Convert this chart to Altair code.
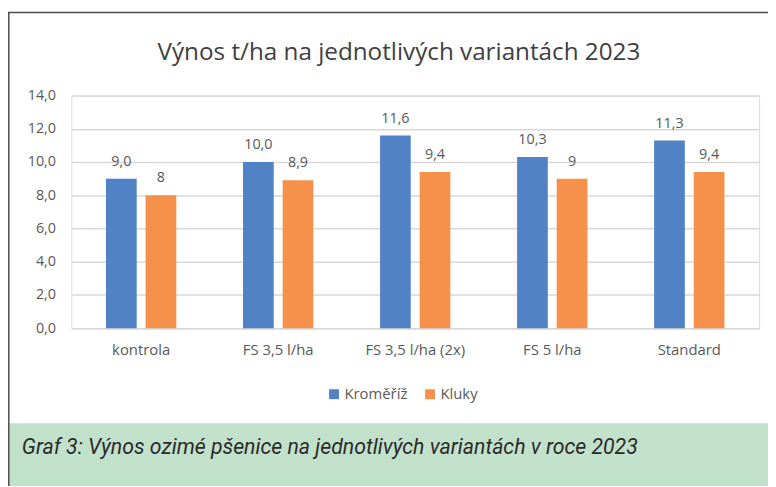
import altair as alt
import pandas as pd

# ---- data ----
categories = ["kontrola", "FS 3,5 l/ha", "FS 3,5 l/ha (2x)", "FS 5 l/ha", "Standard"]
series = ["Kroměříž", "Kluky"]
kromeriz = [9.0, 10.0, 11.6, 10.3, 11.3]
kluky = [8.0, 8.9, 9.4, 9.0, 9.4]
kromeriz_labels = ["9,0", "10,0", "11,6", "10,3", "11,3"]
kluky_labels = ["8", "8,9", "9,4", "9", "9,4"]
y_ticks = [0, 2, 4, 6, 8, 10, 12, 14]
title_text = ["Výnos t/ha na jednotlivých variantách 2023"]
caption_text = ["Graf 3: Výnos ozimé pšenice na jednotlivých variantách v roce 2023"]
colors = ["#5182C6", "#F5914A"]

rows = []
for i, c in enumerate(categories):
    rows.append({"variant": c, "series": series[0], "value": kromeriz[i], "label": kromeriz_labels[i]})
    rows.append({"variant": c, "series": series[1], "value": kluky[i], "label": kluky_labels[i]})
df = pd.DataFrame(rows)

FONT = "Open Sans"
GREY = "#595959"
W, H = 695, 235

x = alt.X("variant:N", sort=categories, title=None,
          scale=alt.Scale(paddingInner=0.487, paddingOuter=0.253),
          axis=alt.Axis(labelAngle=0, labelFontSize=15, labelColor=GREY, labelFont=FONT,
                        labelPadding=15, ticks=False, domainColor="#d9d9d9", domainWidth=1.5,
                        grid=False))
xo = alt.XOffset("series:N", sort=series, scale=alt.Scale(paddingInner=0.225, paddingOuter=0))
y = alt.Y("value:Q", title=None,
          scale=alt.Scale(domain=[0, 14], nice=False, zero=True),
          axis=alt.Axis(values=y_ticks, labelExpr="replace(format(datum.value, '.1f'), '.', ',')",
                        labelFontSize=14.5, labelColor=GREY, labelFont=FONT, labelPadding=16,
                        ticks=False, domain=False, grid=True, gridColor="#d9d9d9", gridWidth=1.5))
color = alt.Color("series:N", sort=series,
                  scale=alt.Scale(domain=series, range=colors),
                  legend=alt.Legend(title=None, orient="none", legendX=258, legendY=294,
                                    direction="horizontal", symbolType="square", symbolSize=100,
                                    symbolStrokeWidth=0, labelFontSize=15, labelColor=GREY,
                                    labelFont=FONT, columnPadding=15, labelOffset=3))

base = alt.Chart(df)
bars = base.mark_bar().encode(x=x, xOffset=xo, y=y, color=color)
labels = base.mark_text(fontSize=14.5, color=GREY, font=FONT, dy=-13, baseline="alphabetic").encode(
    x=x, xOffset=xo, y=y, text="label:N")

green = alt.Chart(pd.DataFrame({"a": [0]})).mark_rect(color="#C1E1CB").encode(
    x=alt.value(-63), x2=alt.value(704), y=alt.value(331), y2=alt.value(395))
top_border = alt.Chart(pd.DataFrame({"a": [0]})).mark_rule(color="#4d4d4d", strokeWidth=1.5).encode(
    x=alt.value(-64), x2=alt.value(704), y=alt.value(-84))
left_border = alt.Chart(pd.DataFrame({"a": [0]})).mark_rule(color="#4d4d4d", strokeWidth=1.5).encode(
    x=alt.value(-63.2), y=alt.value(-84), y2=alt.value(395))
title = alt.Chart(pd.DataFrame({"t": title_text})).mark_text(
    fontSize=24.5, font=FONT, color="#404040", align="center", baseline="middle").encode(
    x=alt.value(331), y=alt.value(-43), text="t:N")
caption = alt.Chart(pd.DataFrame({"t": caption_text})).mark_text(
    fontSize=21.5, font="Roboto", fontStyle="italic", color="#2b2b2b",
    align="left", baseline="middle").encode(
    x=alt.value(-50), y=alt.value(356), text="t:N")

chart = alt.layer(green, top_border, left_border, bars, labels, title, caption).properties(
    width=W, height=H,
    autosize=alt.AutoSizeParams(type="none"),
    padding={"left": 64, "top": 86, "right": 9, "bottom": 157},
).configure_view(stroke=None).configure(background="white")

chart.save("out.html", embed_options={"renderer": "svg", "actions": False})
